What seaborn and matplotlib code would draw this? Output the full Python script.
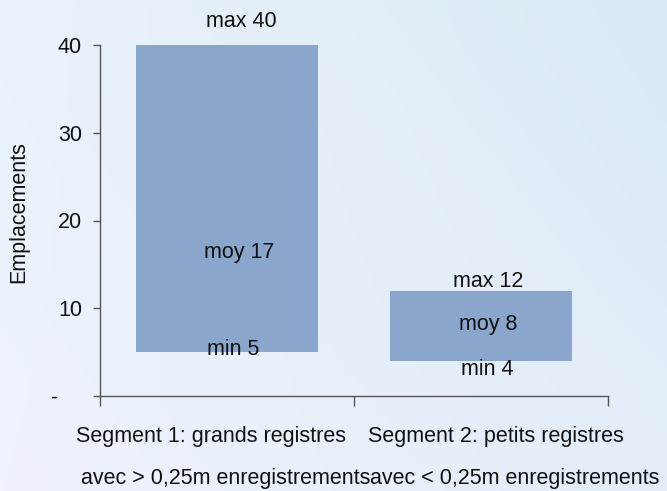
import numpy as np
import pandas as pd
import matplotlib
matplotlib.use("Agg")
import matplotlib.pyplot as plt
import seaborn as sns

# Range of sites per segment
segments = ["Segment 1: grands registres", "Segment 2: petits registres"]
subtitles = ["avec > 0,25m enregistrements", "avec < 0,25m enregistrements"]
min_vals = [5, 4]
moy_vals = [17, 8]
max_vals = [40, 12]
y_ticks = [0, 10, 20, 30, 40]
y_tick_labels = ["-    ", "10", "20", "30", "40"]

df = pd.DataFrame({
    "segment": segments,
    "low": min_vals,
    "high": max_vals,
})
df["span"] = df["high"] - df["low"]

sns.set_theme(style="white")
plt.rcParams["font.family"] = ["Liberation Sans", "DejaVu Sans"]
FS = 15.5

W, H, DPI = 667, 491, 100
fig = plt.figure(figsize=(W / DPI, H / DPI), dpi=DPI)

# soft diagonal backdrop
bg = fig.add_axes([0, 0, 1, 1], zorder=-10)
bg.set_axis_off()
tl = np.array([233, 243, 250]) / 255
tr = np.array([219, 234, 246]) / 255
bl = np.array([239, 242, 252]) / 255
br = np.array([227, 238, 248]) / 255
u = np.linspace(0, 1, 200)[None, :, None]
v = np.linspace(0, 1, 150)[:, None, None]
grad = (1 - v) * ((1 - u) * tl + u * tr) + v * ((1 - u) * bl + u * br)
bg.imshow(grad, aspect="auto", extent=[0, 1, 0, 1])

ax = fig.add_axes([100 / W, 1 - 396 / H, 508 / W, 351 / H])
ax.patch.set_alpha(0)

sns.barplot(data=df, x="segment", y="span", bottom=df["low"].to_numpy(),
            color="#8AA6CC", saturation=1, width=0.72, linewidth=0,
            edgecolor="none", ax=ax)

ax.set_xlim(-0.5, 1.5)
ax.set_ylim(0, 40)

# min / moy / max labels, offsets in pixels from (bar centre, value)
label_offsets = {
    0: {"max": (14, 18), "moy": (12, -11.5), "min": (6, -2.5)},
    1: {"max": (7, 3.5), "moy": (7, -4.5), "min": (6, -14.5)},
}
for i in range(len(segments)):
    for kind, val in (("max", max_vals[i]), ("moy", moy_vals[i]), ("min", min_vals[i])):
        dx, dy = label_offsets[i][kind]
        ax.annotate(f"{kind} {val}", xy=(i, val), xytext=(dx, dy),
                    textcoords="offset pixels", ha="center", va="baseline",
                    fontsize=FS, color="#111111", annotation_clip=False)

# category captions below the axis
line1_dx = [-16, 15]
line2_dx = [-1, 34]
for i in range(len(segments)):
    ax.annotate(segments[i], xy=(i, 0), xycoords=("data", "axes fraction"),
                xytext=(line1_dx[i], -46), textcoords="offset pixels",
                ha="center", va="baseline", fontsize=FS, color="#111111",
                annotation_clip=False)
    ax.annotate(subtitles[i], xy=(i, 0), xycoords=("data", "axes fraction"),
                xytext=(line2_dx[i], -88), textcoords="offset pixels",
                ha="center", va="baseline", fontsize=FS, color="#111111",
                annotation_clip=False)

ax.set_xticks([-0.5, 0.5, 1.5])
ax.set_xticklabels([])
ax.tick_params(axis="x", direction="out", length=7, width=1, color="#555555", bottom=True)
ax.set_xlabel("")

ax.set_yticks(y_ticks)
ax.set_yticklabels(y_tick_labels, fontsize=FS, color="#111111")
ax.tick_params(axis="y", direction="out", length=5, width=1, color="#555555",
               left=True, pad=8)
ax.set_ylabel("Emplacements", fontsize=FS, color="#111111")
ax.yaxis.set_label_coords(-0.14, 0.524)

sns.despine(ax=ax)
for s in ("left", "bottom"):
    ax.spines[s].set_color("#555555")
    ax.spines[s].set_linewidth(1)

fig.savefig("out.png", dpi=DPI)
